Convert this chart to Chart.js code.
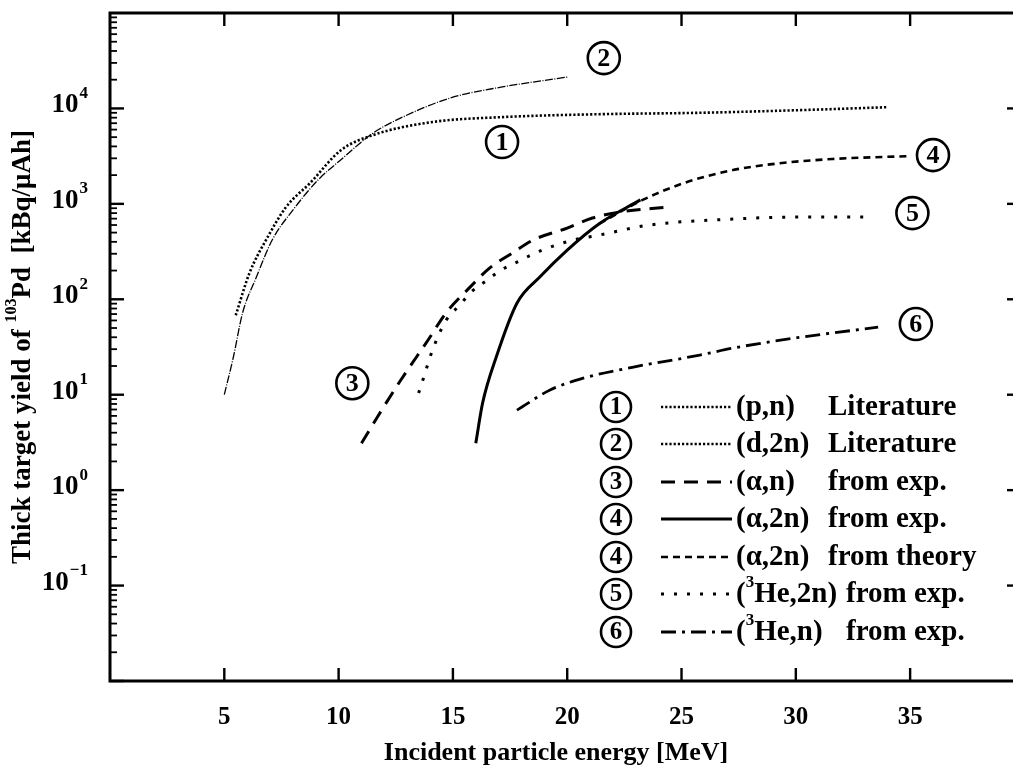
<!DOCTYPE html>
<html>
<head>
<meta charset="utf-8">
<script src="https://cdn.jsdelivr.net/npm/chart.js@4/dist/chart.umd.min.js"></script>
<style>
  html, body { margin: 0; padding: 0; background: #fff; overflow: hidden; }
  canvas { display: block; }
</style>
</head>
<body>
<canvas id="yieldChart" width="1013" height="768"></canvas>
<script>
// --- data (energy in MeV, yield in kBq/uAh) ---
const pnEnergy = [5.5, 6.1, 6.9, 7.7, 8.75, 10.1, 11.5, 14.1, 17.1, 21.4, 25.8, 30.2, 34.0];
const pnYield = [68, 188, 450, 925, 1650, 3650, 5250, 7200, 8100, 8700, 9000, 9600, 10300];

const d2nEnergy = [5.0, 5.4, 5.8, 6.4, 7.1, 8.0, 9.1, 10.1, 11.5, 12.7, 14.9, 17.1, 20.0];
const d2nYield = [10, 25, 72, 170, 420, 860, 1780, 2900, 5500, 7900, 12900, 16700, 21300];

const anEnergy = [11.0, 11.8, 12.7, 13.9, 14.7, 15.75, 16.6, 17.6, 18.5, 20.0, 21.1, 22.3, 24.4];
const anYield = [3.1, 6.4, 14, 37, 72, 134, 212, 305, 417, 557, 710, 820, 925];

const a2nExpEnergy = [16.0, 16.3, 16.9, 17.8, 18.8, 20.0, 21.4, 23.2];
const a2nExpYield = [3.1, 8.2, 25, 91, 171, 328, 620, 1100];

const a2nTheoEnergy = [21.4, 23.3, 25.1, 27.25, 29.4, 31.6, 35.0];
const a2nTheoYield = [620, 1100, 1650, 2260, 2680, 2950, 3170];

const he2nEnergy = [13.5, 13.7, 14.1, 14.7, 15.3, 15.8, 16.5, 17.1, 17.8, 18.8, 20.25, 21.4, 23.6, 27.25, 30.2, 33.1];
const he2nYield = [10.4, 14.6, 29, 60, 87, 119, 159, 202, 245, 320, 417, 471, 600, 693, 728, 728];

const henEnergy = [17.8, 19.25, 20.7, 22.9, 25.8, 27.25, 30.2, 33.6];
const henYield = [6.9, 11.2, 14.9, 19.5, 26, 30.8, 40, 51];

// circled labels next to the curves: [label, energy, yield]
const curveTags = [
    ['2', 21.6, 33700],
    ['1', 17.15, 4450],
    ['4', 36.0, 3240],
    ['5', 35.1, 800],
    ['3', 10.6, 13.2],
    ['6', 35.25, 55]
];

const xTicks = [5, 10, 15, 20, 25, 30, 35];
const yDecades = [-1, 0, 1, 2, 3, 4];

const legendRows = [
    { tag: '1', head: [['(p,n)']], tail: 'Literature' },
    { tag: '2', head: [['(d,2n)']], tail: 'Literature' },
    { tag: '3', head: [['(\u03b1,n)']], tail: 'from exp.' },
    { tag: '4', head: [['(\u03b1,2n)']], tail: 'from exp.' },
    { tag: '4', head: [['(\u03b1,2n)']], tail: 'from theory' },
    { tag: '5', head: [['('], ['3', true], ['He,2n)']], tail: 'from exp.', wide: true },
    { tag: '6', head: [['('], ['3', true], ['He,n)']], tail: 'from exp.', wide: true }
];

// line looks, in legend order
const lineStyles = [
    { width: 2.6, dash: [2.2, 2] },
    { width: 1.3, dash: [8, 1.5, 1, 1.5] },
    { width: 3, dash: [14, 9] },
    { width: 3, dash: [] },
    { width: 2.6, dash: [7, 5] },
    { width: 3, dash: [3, 10] },
    { width: 2.8, dash: [15, 6, 3, 6] }
];
// the legend shows (d,2n) as dots too
const legendStyles = lineStyles.map((s, i) => (i === 1 ? lineStyles[0] : s));

const SERIF = '"Liberation Serif", "Times New Roman", serif';

function toPoints(xs, ys) {
    return xs.map((x, i) => ({ x: x, y: ys[i] }));
}

function makeSet(label, xs, ys, style) {
    return {
        label: label,
        data: toPoints(xs, ys),
        borderColor: '#000',
        borderWidth: style.width,
        borderDash: style.dash,
        pointRadius: 0,
        fill: false,
        cubicInterpolationMode: 'monotone'
    };
}

function circled(ctx, cx, cy, r, txt, size) {
    ctx.save();
    ctx.lineWidth = 2.6;
    ctx.strokeStyle = '#000';
    ctx.beginPath();
    ctx.arc(cx, cy, r, 0, Math.PI * 2);
    ctx.stroke();
    ctx.fillStyle = '#000';
    ctx.font = 'bold ' + size + 'px ' + SERIF;
    ctx.textAlign = 'center';
    ctx.textBaseline = 'middle';
    ctx.fillText(txt, cx, cy + 1);
    ctx.restore();
}

// draws [text, isSup] parts left to right, returns end x
function drawParts(ctx, x, y, parts, size, measureOnly) {
    let cx = x;
    parts.forEach(p => {
        const sup = p[1];
        const fs = sup ? Math.round(size * 0.6) : size;
        ctx.font = 'bold ' + fs + 'px ' + SERIF;
        if (!measureOnly) ctx.fillText(p[0], cx, sup ? y - size * 0.42 : y);
        cx += ctx.measureText(p[0]).width;
    });
    return cx;
}

const decorations = {
    id: 'decorations',
    afterDraw(chart) {
        const ctx = chart.ctx;
        const a = chart.chartArea;
        const xs = chart.scales.x;
        const ys = chart.scales.y;
        ctx.save();
        ctx.strokeStyle = '#000';
        ctx.fillStyle = '#000';

        // frame (no right edge, figure is cropped there)
        ctx.lineWidth = 3;
        ctx.beginPath();
        ctx.moveTo(a.right + 2, a.bottom);
        ctx.lineTo(a.left, a.bottom);
        ctx.lineTo(a.left, a.top);
        ctx.lineTo(a.right + 2, a.top);
        ctx.stroke();

        // x ticks, top and bottom, pointing inward
        ctx.lineWidth = 2.4;
        xTicks.forEach(v => {
            const px = xs.getPixelForValue(v);
            ctx.beginPath();
            ctx.moveTo(px, a.bottom);
            ctx.lineTo(px, a.bottom - 13);
            ctx.moveTo(px, a.top);
            ctx.lineTo(px, a.top + 13);
            ctx.stroke();
        });

        // y ticks: majors + minors on the left, majors on the right
        for (let d = -2; d <= 4; d++) {
            for (let m = 1; m <= 9; m++) {
                const py = ys.getPixelForValue(m * Math.pow(10, d));
                ctx.lineWidth = m === 1 ? 2.4 : 1.8;
                ctx.beginPath();
                ctx.moveTo(a.left, py);
                ctx.lineTo(a.left + (m === 1 ? 14 : 7), py);
                ctx.stroke();
                if (m === 1 && d > -2) {
                    ctx.beginPath();
                    ctx.moveTo(a.right, py);
                    ctx.lineTo(a.right - 6, py);
                    ctx.stroke();
                }
            }
        }

        // tick labels
        ctx.font = 'bold 25px ' + SERIF;
        ctx.textAlign = 'center';
        ctx.textBaseline = 'middle';
        xTicks.forEach(v => {
            ctx.fillText(String(v), xs.getPixelForValue(v), 718);
        });

        ctx.textAlign = 'left';
        ctx.textBaseline = 'middle';
        yDecades.forEach(d => {
            const py = ys.getPixelForValue(Math.pow(10, d));
            const exp = String(d).replace('-', '\u2212');
            ctx.font = 'bold 17px ' + SERIF;
            const ew = ctx.measureText(exp).width;
            ctx.font = 'bold 27px ' + SERIF;
            const bw = ctx.measureText('10').width;
            const x0 = 87 - ew - bw;
            ctx.fillText('10', x0, py - 3);
            ctx.font = 'bold 17px ' + SERIF;
            ctx.fillText(exp, x0 + bw + 1, py - 15);
        });

        // axis titles
        ctx.font = 'bold 26px ' + SERIF;
        ctx.textAlign = 'center';
        ctx.fillText('Incident particle energy [MeV]', 556, 753);

        const yParts = [['Thick target yield of '], ['103', true], ['Pd  [kBq/\u03bcAh]']];
        ctx.save();
        ctx.translate(23, 347);
        ctx.rotate(-Math.PI / 2);
        ctx.textAlign = 'left';
        const tw = drawParts(ctx, 0, 0, yParts, 27, true);
        drawParts(ctx, -tw / 2, 0, yParts, 27, false);
        ctx.restore();

        // circled tags next to curves
        curveTags.forEach(t => {
            circled(ctx, xs.getPixelForValue(t[1]), ys.getPixelForValue(t[2]), 16, t[0], 26);
        });

        // legend
        const rowY = [407, 444, 482, 519, 557, 594, 632];
        legendRows.forEach((row, i) => {
            const y = rowY[i];
            circled(ctx, 616, y, 15, row.tag, 25);
            const st = legendStyles[i];
            ctx.save();
            ctx.lineWidth = st.width;
            ctx.setLineDash(st.dash);
            ctx.beginPath();
            ctx.moveTo(661, y);
            ctx.lineTo(732, y);
            ctx.stroke();
            ctx.restore();
            ctx.textAlign = 'left';
            ctx.textBaseline = 'middle';
            drawParts(ctx, 736, y + 1, row.head, 29, false);
            ctx.font = 'bold 29px ' + SERIF;
            ctx.fillText(row.tail, row.wide ? 846 : 828, y + 1);
        });

        ctx.restore();
    }
};

new Chart(document.getElementById('yieldChart'), {
    type: 'line',
    data: {
        datasets: [
            makeSet('(p,n) Literature', pnEnergy, pnYield, lineStyles[0]),
            makeSet('(d,2n) Literature', d2nEnergy, d2nYield, lineStyles[1]),
            makeSet('(\u03b1,n) from exp.', anEnergy, anYield, lineStyles[2]),
            makeSet('(\u03b1,2n) from exp.', a2nExpEnergy, a2nExpYield, lineStyles[3]),
            makeSet('(\u03b1,2n) from theory', a2nTheoEnergy, a2nTheoYield, lineStyles[4]),
            makeSet('(3He,2n) from exp.', he2nEnergy, he2nYield, lineStyles[5]),
            makeSet('(3He,n) from exp.', henEnergy, henYield, lineStyles[6])
        ]
    },
    options: {
        responsive: false,
        animation: false,
        devicePixelRatio: 1,
        layout: { padding: { left: 110, right: 0, top: 13, bottom: 87 } },
        scales: {
            x: { type: 'linear', min: 0, max: 39.5, display: false },
            y: { type: 'logarithmic', min: 0.01, max: 100000, display: false }
        },
        plugins: {
            legend: { display: false },
            tooltip: { enabled: false }
        }
    },
    plugins: [decorations]
});
</script>
</body>
</html>
